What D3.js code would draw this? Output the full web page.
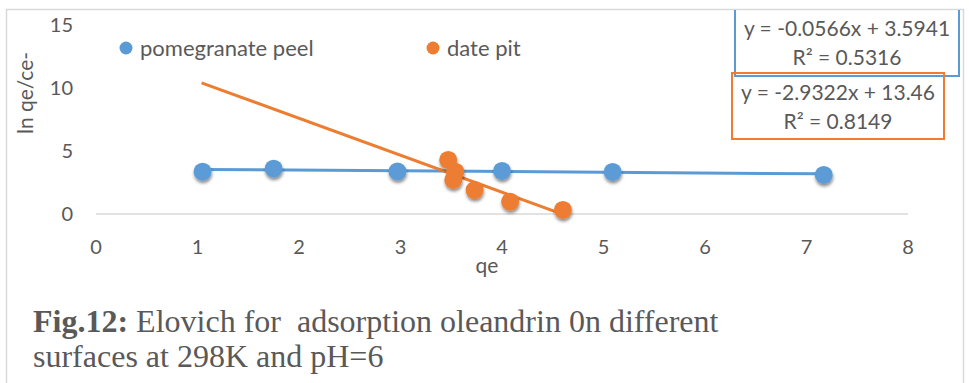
<!DOCTYPE html>
<html>
<head>
<meta charset="utf-8">
<script src="https://cdn.jsdelivr.net/npm/d3@7"></script>
<style>
  body { margin: 0; background: #fff; }
  svg { display: block; }
</style>
</head>
<body>
<svg id="chart" width="969" height="383"></svg>
<script>
// Axis ticks
const xTicks = [0, 1, 2, 3, 4, 5, 6, 7, 8];
const yTicks = [0, 5, 10, 15];

// Series: qe vs ln qe/ce
const seriesNames = ["pomegranate peel", "date pit"];
const peelQe = [1.05, 1.75, 2.97, 4.0, 5.09, 7.17];
const peelLn = [3.36, 3.6, 3.38, 3.42, 3.34, 3.1];
const pitQe = [3.47, 3.54, 3.52, 3.73, 4.08, 4.6];
const pitLn = [4.29, 3.36, 2.7, 1.9, 0.98, 0.32];

// Linear trendlines (slope, intercept, R²) and the qe span each one covers
const trendSlopes = [-0.0566, -2.9322];
const trendIntercepts = [3.5941, 13.46];
const trendR2 = [0.5316, 0.8149];
const trendSpans = [[1.05, 7.17], [1.04, 4.6]];
const trendLabels = ["y = -0.0566x + 3.5941", "y = -2.9322x + 13.46"];
const r2Labels = ["R² = 0.5316", "R² = 0.8149"];

const captionBold = "Fig.12:";
const captionLine1 = " Elovich for  adsorption oleandrin 0n different";
const captionLine2 = "surfaces at 298K and pH=6";

const colors = ["#5b9bd5", "#ed7d31"];
const textColor = "#595959";
const chartFont = "Lato, 'Open Sans', sans-serif";
const labelSize = 21;
const legendSize = 22;
const tickSize = 20;

const svg = d3.select("#chart");
const x = d3.scaleLinear().domain([0, 8]).range([96, 908]);
const y = d3.scaleLinear().domain([0, 15]).range([214, 25]);

const defs = svg.append("defs");
const shadow = defs.append("filter").attr("id", "markerShadow")
  .attr("x", "-50%").attr("y", "-50%").attr("width", "200%").attr("height", "200%");
shadow.append("feDropShadow").attr("dx", 0.5).attr("dy", 2.5)
  .attr("stdDeviation", 1.6).attr("flood-color", "#000").attr("flood-opacity", 0.45);
defs.append("clipPath").attr("id", "frameClip")
  .append("rect").attr("x", 7).attr("y", 10).attr("width", 956).attr("height", 373);

// Chart frame (left, top, right)
svg.append("path")
  .attr("d", "M6.5,383V9.5H963.5V383")
  .attr("fill", "none").attr("stroke", "#d9d9d9").attr("stroke-width", 1.5);

// Horizontal axis line at zero
svg.append("line")
  .attr("x1", x(0)).attr("x2", x(8)).attr("y1", y(0)).attr("y2", y(0))
  .attr("stroke", "#d9d9d9").attr("stroke-width", 1.5);

// X tick labels
svg.append("g").selectAll("text").data(xTicks).join("text")
  .attr("x", d => x(d)).attr("y", 254)
  .attr("text-anchor", "middle")
  .attr("font-family", chartFont).attr("font-size", tickSize).attr("fill", textColor)
  .text(d => d);

// Y tick labels
svg.append("g").selectAll("text").data(yTicks).join("text")
  .attr("x", 73).attr("y", d => y(d) + 7)
  .attr("text-anchor", "end")
  .attr("font-family", chartFont).attr("font-size", tickSize).attr("fill", textColor)
  .text(d => d);

// Axis titles
svg.append("text")
  .attr("x", 487).attr("y", 273).attr("text-anchor", "middle")
  .attr("font-family", chartFont).attr("font-size", labelSize).attr("fill", textColor)
  .text("qe");
svg.append("text")
  .attr("transform", "translate(33,93) rotate(-90)")
  .attr("text-anchor", "middle")
  .attr("font-family", chartFont).attr("font-size", labelSize).attr("fill", textColor)
  .text("ln qe/ce-");

// Trendlines
const line = d3.line().x(d => x(d[0])).y(d => y(d[1]));
trendSpans.forEach((span, i) => {
  const pts = span.map(q => [q, trendSlopes[i] * q + trendIntercepts[i]]);
  svg.append("path").attr("d", line(pts))
    .attr("fill", "none").attr("stroke", colors[i]).attr("stroke-width", 3);
});

// Markers
const seriesData = [
  peelQe.map((q, i) => [q, peelLn[i]]),
  pitQe.map((q, i) => [q, pitLn[i]])
];
seriesData.forEach((pts, i) => {
  svg.append("g").attr("filter", "url(#markerShadow)")
    .selectAll("circle").data(pts).join("circle")
    .attr("cx", d => x(d[0])).attr("cy", d => y(d[1])).attr("r", 9)
    .attr("fill", colors[i]);
});

// Legend
const legendX = [126, 433];
seriesNames.forEach((name, i) => {
  svg.append("circle").attr("cx", legendX[i]).attr("cy", 48).attr("r", 6.5)
    .attr("fill", colors[i]);
  svg.append("text").attr("x", legendX[i] + 14).attr("y", 55.5)
    .attr("font-family", chartFont).attr("font-size", legendSize).attr("fill", textColor)
    .text(name);
});

// Trendline equation boxes
const boxes = [
  { x0: 735, x1: 959, y0: 0, y1: 76, cy: [29, 58] },
  { x0: 732, x1: 944, y0: 73, y1: 139, cy: [93, 122] }
];
const labelLayer = svg.append("g").attr("clip-path", "url(#frameClip)");
boxes.forEach((b, i) => {
  labelLayer.append("rect")
    .attr("x", b.x0).attr("y", b.y0).attr("width", b.x1 - b.x0).attr("height", b.y1 - b.y0)
    .attr("fill", "none").attr("stroke", colors[i]).attr("stroke-width", 2);
  [trendLabels[i], r2Labels[i]].forEach((t, j) => {
    labelLayer.append("text")
      .attr("x", (b.x0 + b.x1) / 2).attr("y", b.cy[j] + 7)
      .attr("text-anchor", "middle")
      .attr("font-family", chartFont).attr("font-size", labelSize).attr("fill", textColor)
      .text(t);
  });
});

// Caption
const serif = "'Liberation Serif', 'Times New Roman', serif";
const cap = svg.append("text")
  .attr("x", 33).attr("y", 332)
  .attr("font-family", serif).attr("font-size", 32).attr("fill", "#595959")
  .style("white-space", "pre");
cap.append("tspan").attr("font-weight", "bold").text(captionBold);
cap.append("tspan").text(captionLine1);
svg.append("text")
  .attr("x", 33).attr("y", 367)
  .attr("font-family", serif).attr("font-size", 32).attr("fill", "#595959")
  .text(captionLine2);
</script>
</body>
</html>
